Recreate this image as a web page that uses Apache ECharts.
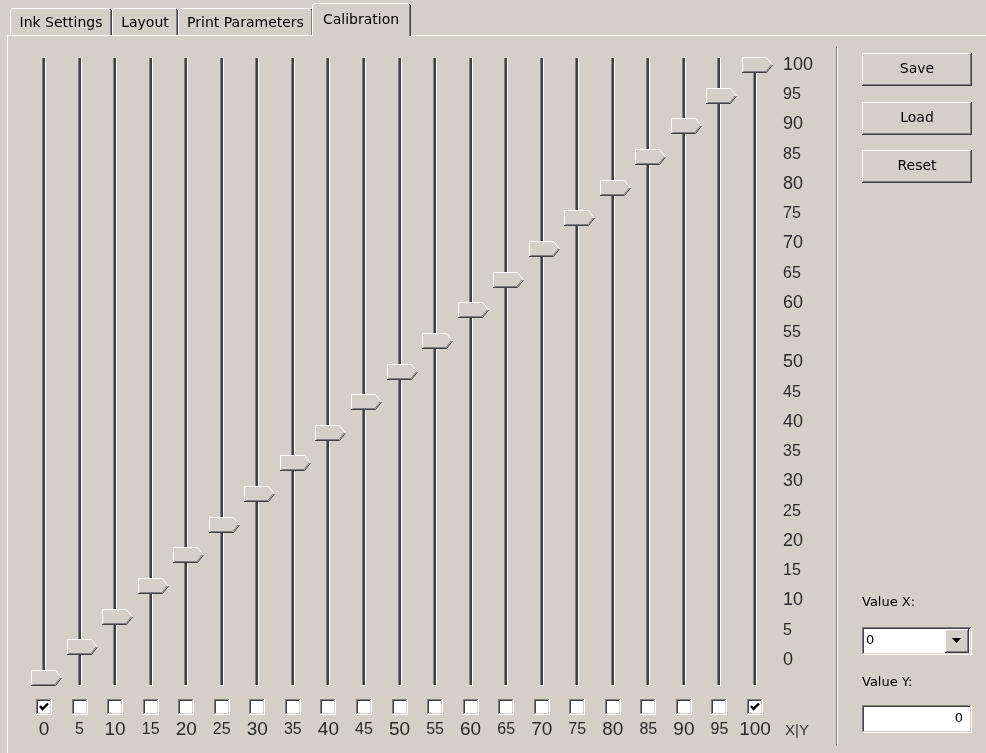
<!DOCTYPE html>
<html>
<head>
<meta charset="utf-8">
<script src="https://cdn.jsdelivr.net/npm/echarts@6/dist/echarts.min.js"></script>
<style>
html,body{margin:0;padding:0;background:#D4D0C8;}
#c{width:986px;height:753px;}
</style>
</head>
<body>
<div id="c"></div>
<script>
// ---- data ----
const xLabels = ['0','5','10','15','20','25','30','35','40','45','50','55','60','65','70','75','80','85','90','95','100'];
const sliderValues = [0,5,10,15,20,25,30,35,40,45,50,55,60,65,70,75,80,85,90,95,100];
const checked = [1,0,0,0,0,0,0,0,0,0,0,0,0,0,0,0,0,0,0,0,1];
const yLabels = ['0','5','10','15','20','25','30','35','40','45','50','55','60','65','70','75','80','85','90','95','100'];
const tabNames = ['Ink Settings','Layout','Print Parameters','Calibration'];
const buttonNames = ['Save','Load','Reset'];

const BG = '#D4D0C8', DK = '#404040', MD = '#808080', WH = '#ffffff';
const UIFONT = 'DejaVu Sans';
const NUMFONT = 'Liberation Sans';

function r(x,y,w,h,fill){ return {type:'rect', shape:{x:x,y:y,width:w,height:h}, style:{fill:fill}, silent:true}; }
function bevel(x,y,w,h,tl1,br1,tl2,br2,fill){
  return [
    r(x,y,w,h,fill),
    r(x,y,w,1,tl1), r(x,y,1,h,tl1),
    r(x,y+h-1,w,1,br1), r(x+w-1,y,1,h,br1),
    r(x+1,y+1,w-2,1,tl2), r(x+1,y+1,1,h-2,tl2),
    r(x+1,y+h-2,w-2,1,br2), r(x+w-2,y+1,1,h-2,br2)
  ];
}
function raised(x,y,w,h){ return bevel(x,y,w,h,WH,DK,BG,MD,BG); }
function sunken(x,y,w,h,fill){ return bevel(x,y,w,h,MD,WH,DK,BG,fill||WH); }
function txt(x,y,s,opt){
  return Object.assign({type:'text', x:x, y:y, silent:true,
    style:Object.assign({text:s, fill:'#000', font:'14px "'+UIFONT+'"', textVerticalAlign:'middle'}, opt||{})});
}

// ---- chrome ----
const g = [];
g.push(r(7,35,979,1,WH));
g.push(r(7,35,1,718,WH));
const tabX = [10,112,178,313,411];
for (let i=0;i<3;i++){
  const x0 = tabX[i], x1 = tabX[i+1];
  g.push(r(x0,10,1,25,WH));
  g.push(r(x0+1,9,1,1,WH));
  g.push(r(x0+2,8,x1-x0-4,1,WH));
  g.push(r(x1-2,10,1,25,MD));
  g.push(r(x1-1,10,1,25,DK));
  g.push(r(x1-2,9,1,1,DK));
  g.push(txt((x0+x1)/2,23,tabNames[i],{textAlign:'center'}));
}
g.push(r(312,3,99,34,BG));
g.push(r(312,5,1,31,WH));
g.push(r(313,4,1,1,WH));
g.push(r(314,3,94,1,WH));
g.push(r(409,5,1,31,MD));
g.push(r(410,5,1,31,DK));
g.push(r(409,4,1,1,DK));
g.push(txt(361,20,tabNames[3],{textAlign:'center'}));
g.push(r(836,46,1,700,MD));
g.push(r(837,46,1,700,WH));
const btnY = [53,102,150];
for (let i=0;i<3;i++){
  raised(862,btnY[i],110,33).forEach(e=>g.push(e));
  g.push(txt(917,btnY[i]+16,buttonNames[i],{textAlign:'center', font:'14px "'+UIFONT+'"'}));
}
g.push(txt(862,603,'Value X:',{font:'13px "'+UIFONT+'"'}));
sunken(862,627,110,28).forEach(e=>g.push(e));
raised(945,629,24,24).forEach(e=>g.push(e));
g.push({type:'polygon', shape:{points:[[952,638],[961,638],[956.5,643]]}, style:{fill:'#000'}, silent:true});
g.push(txt(866,641,'0',{font:'13px "'+UIFONT+'"'}));
g.push(txt(862,683,'Value Y:',{font:'13px "'+UIFONT+'"'}));
sunken(862,705,110,28).forEach(e=>g.push(e));
g.push(txt(963,719,'0',{textAlign:'right', font:'13px "'+UIFONT+'"'}));
g.push(txt(785,731,'X|Y',{font:'15px "'+NUMFONT+'"', fill:'#333'}));

function numRich(big, small){
  return {
    b:{fontSize:big, lineHeight:22, fontFamily:NUMFONT, color:'#2a2a2a'},
    s:{fontSize:small, lineHeight:22, fontFamily:NUMFONT, color:'#2a2a2a'}
  };
}
function numFmt(v){ return (Number(v)%10===0 ? '{b|' : '{s|') + v + '}'; }

function renderSlider(params, api){
  const i = api.value(0);
  const X = Math.round(api.coord([i,0])[0]);
  const yBot = Math.round(api.coord([i,0])[1]);
  const yTop = Math.round(api.coord([i,100])[1]);
  const cy = Math.round(api.coord([i,api.value(1)])[1]);
  const ch = [];
  const t0 = yTop-7, t1 = yBot+8;
  ch.push(r(X-2,t0,1,t1-t0,MD));
  ch.push(r(X-1,t0,2,t1-t0,DK));
  ch.push(r(X+1,t0,1,t1-t0,WH));
  ch.push(r(X-2,t1-1,4,1,WH));
  const L = X-13, R = X+11, T = X+18, top = cy-8, bot = cy+8;
  ch.push({type:'polygon', shape:{points:[[L,top],[R,top],[T,cy],[R,bot],[L,bot]]}, style:{fill:BG}});
  ch.push({type:'polyline', shape:{points:[[L+0.5,bot-1],[L+0.5,top+0.5],[R+0.5,top+0.5],[T-0.5,cy]]}, style:{stroke:WH, lineWidth:1, fill:null}});
  ch.push({type:'polyline', shape:{points:[[L,bot-0.5],[R+0.5,bot-0.5],[T-0.5,cy]]}, style:{stroke:DK, lineWidth:1, fill:null}});
  ch.push({type:'polyline', shape:{points:[[L+1.5,bot-1.5],[R,bot-1.5],[T-2,cy]]}, style:{stroke:MD, lineWidth:1, fill:null}});
  const cbx = X-8, cby = yBot+21;
  sunken(cbx,cby,16,16,WH).forEach(e=>ch.push(e));
  if (api.value(2)) {
    ch.push({type:'polyline', shape:{points:[[cbx+4,cby+7],[cbx+6.5,cby+10],[cbx+12,cby+4.5]]}, style:{stroke:'#000', lineWidth:2.4, fill:null}});
  }
  return {type:'group', children:ch};
}

const chart = echarts.init(document.getElementById('c'), null, {renderer:'canvas'});
chart.setOption({
  backgroundColor: BG,
  animation:false,
  grid:[
    {left:44, right:231, top:65, bottom:75},
    {left:44, right:231, top:65, bottom:93}
  ],
  xAxis:[
    {type:'category', gridIndex:0, data:xLabels, boundaryGap:false,
     axisLine:{show:false}, axisTick:{show:false}, splitLine:{show:false},
     axisLabel:{interval:0, margin:41, formatter:numFmt, rich:numRich(19,16)}},
    {type:'category', gridIndex:1, data:xLabels, boundaryGap:false, show:false}
  ],
  yAxis:[
    {type:'value', gridIndex:0, min:0, max:100, interval:5, show:false},
    {type:'category', gridIndex:1, data:yLabels, boundaryGap:false, position:'right',
     axisLine:{show:false}, axisTick:{show:false}, splitLine:{show:false},
     axisLabel:{interval:0, margin:28, align:'left', formatter:numFmt, rich:numRich(18,16)}}
  ],
  series:[{
    type:'custom', xAxisIndex:0, yAxisIndex:0,
    data: sliderValues.map((v,i)=>[i, v, checked[i]]),
    encode:{x:0, y:1},
    renderItem: renderSlider,
    silent:true, clip:false
  }],
  graphic: g
});
</script>
</body>
</html>
